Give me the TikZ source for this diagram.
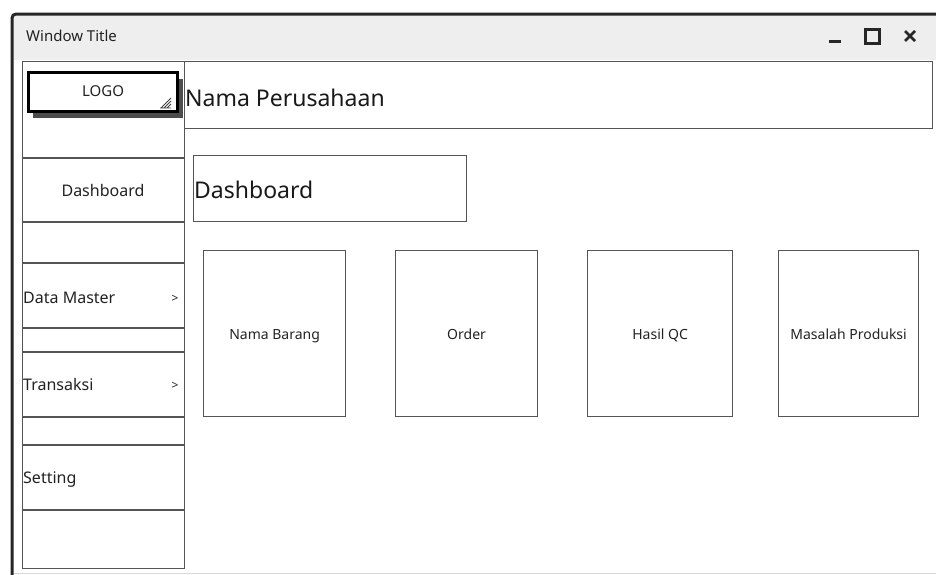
\documentclass[tikz,border=0pt]{standalone}
\usepackage{fontspec}
\setmainfont{Noto Sans}
\definecolor{titlegray}{HTML}{EEEEEE}
\definecolor{linegray}{HTML}{555555}
\definecolor{textgray}{HTML}{222222}
\begin{document}
\begin{tikzpicture}[
    x=1pt, y=-1pt,
    box/.style={rectangle, draw=linegray, line width=1.2pt, fill=white, inner sep=0pt, anchor=north west},
    card/.style={box, minimum width=142pt, minimum height=166pt},
    menu/.style={rectangle, inner sep=1pt, text height=11.5pt, text depth=3.5pt, text=textgray, font=\fontsize{16}{18}\selectfont},
    small/.style={rectangle, inner sep=0pt, text height=10pt, text depth=3pt, text=textgray, font=\fontsize{14}{16}\selectfont},
    big/.style={rectangle, inner sep=1pt, text=black!90, font=\fontsize{23}{26}\selectfont},
    ctrl/.style={line width=3pt, black!85}
]
\clip (0,0) rectangle (936,574);
\fill[white] (0,0) rectangle (936,574);

% Window
\fill[titlegray] (13,15) rectangle (940,60);
\draw[line width=3pt, black!85, rounded corners=4pt] (12,580) |- (945,14);
\draw[line width=1pt, black!15] (14,573) -- (940,573);
\node[small, anchor=west, font=\fontsize{15}{18}\selectfont] (wtitle) at (26,38) {Window Title};
\coordinate (minbtn) at (835,41);
\coordinate (maxbtn) at (872,36);
\coordinate (closebtn) at (910,36);
\draw[ctrl] ([xshift=-6pt]minbtn) -- ([xshift=6pt]minbtn);
\draw[ctrl] ([shift={(-7,-7)}]maxbtn) rectangle ([shift={(7,7)}]maxbtn);
\draw[ctrl, line width=2.6pt] ([shift={(-5,-5)}]closebtn) -- ([shift={(5,5)}]closebtn)
    ([shift={(-5,5)}]closebtn) -- ([shift={(5,-5)}]closebtn);

% Sidebar
\node[box, minimum width=162pt, minimum height=507pt] (sidebar) at (22,61) {};
\foreach \y in {158,222,263,328,352,417,445,510}
    \draw[linegray, line width=1.2pt] (22,\y) -- (184,\y);

% Logo
\fill[black!70] (33,79) rectangle (183,118);
\node[box, draw=black, line width=3pt, minimum width=149pt, minimum height=39pt] (logo) at (27,71) {};
\node[small, font=\fontsize{15}{17}\selectfont] at ([yshift=-1pt]logo.center) {LOGO};
\draw[black!75, line width=0.9pt]
    ([shift={(-18,-5)}]logo.south east) -- ([shift={(-8,-15)}]logo.south east)
    ([shift={(-15,-5)}]logo.south east) -- ([shift={(-8,-12)}]logo.south east)
    ([shift={(-12,-5)}]logo.south east) -- ([shift={(-8,-9)}]logo.south east)
    ([shift={(-19,-5)}]logo.south east) -- ([shift={(-8,-5)}]logo.south east);

% Menu items
\node[menu] (mdash) at (103,192) {Dashboard};
\node[menu, anchor=west] (mdata) at (22,299) {Data Master};
\node[menu, font=\fontsize{12}{14}\selectfont] (mdataarr) at (175,298) {>};
\node[menu, anchor=west] (mtrans) at (22,386) {Transaksi};
\node[menu, font=\fontsize{12}{14}\selectfont] (mtransarr) at (175,385) {>};
\node[menu, anchor=west] (mset) at (22,479) {Setting};

% Header
\node[box, minimum width=748pt, minimum height=67pt] (header) at (184,61) {};
\node[big, anchor=west] (company) at (184,98) {Nama Perusahaan};

% Page title
\node[box, minimum width=273pt, minimum height=66pt] (ptitle) at (193,155) {};
\node[big, anchor=west] (ptitletext) at (193,190) {Dashboard};

% Cards
\node[card] (barang) at (203,250) {};
\node[card] (order) at (395,250) {};
\node[card, minimum width=145pt] (qc) at (587,250) {};
\node[card, minimum width=140pt] (masalah) at (778,250) {};
\node[small] at ([yshift=-2pt]barang.center) {Nama Barang};
\node[small] at ([yshift=-2pt]order.center) {Order};
\node[small] at ([yshift=-2pt]qc.center) {Hasil QC};
\node[small] at ([yshift=-2pt]masalah.center) {Masalah Produksi};

\end{tikzpicture}
\end{document}
